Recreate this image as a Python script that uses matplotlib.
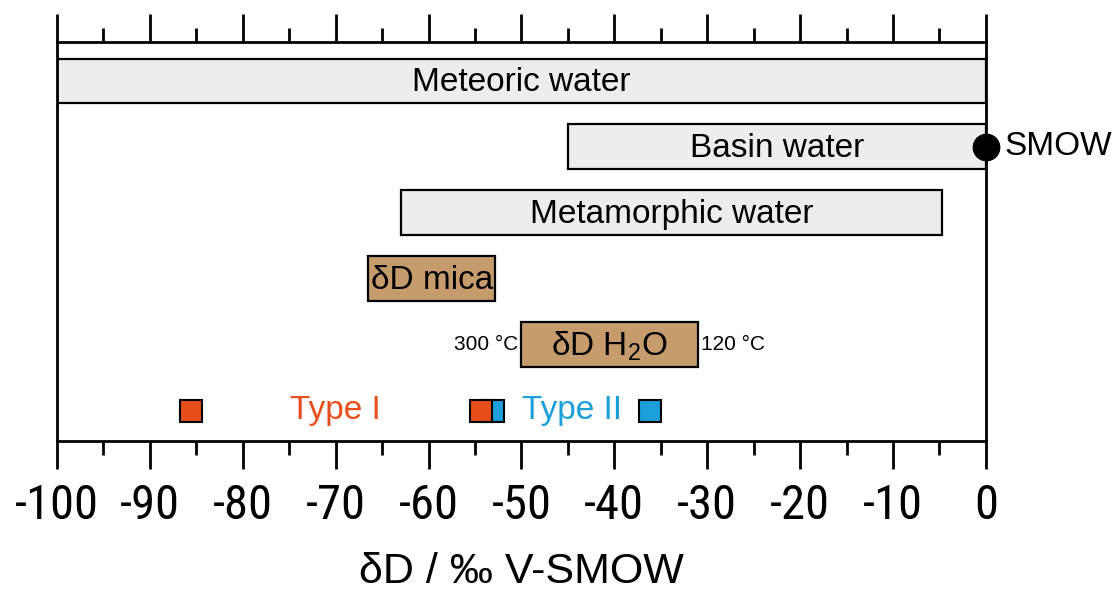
import matplotlib.pyplot as plt
from matplotlib.ticker import MultipleLocator

plt.rcParams['font.family'] = ['Liberation Sans', 'DejaVu Sans']
plt.rcParams['mathtext.fontset'] = 'custom'
plt.rcParams['mathtext.rm'] = 'Liberation Sans'
plt.rcParams['mathtext.default'] = 'regular'
plt.rcParams['axes.unicode_minus'] = False

NARROW = ['Roboto Condensed', 'Liberation Sans', 'DejaVu Sans']

# reservoirs: name, delta-D range (per mil)
box_labels = ['Meteoric water', 'Basin water', 'Metamorphic water', 'δD mica', 'δD H$_2$O']
box_lo = [-100, -45, -63, -66.5, -50]
box_hi = [0, 0, -4.7, -52.8, -31]
box_colors = ['#ededed', '#ededed', '#ededed', '#c69c6d', '#c69c6d']

# samples
type1_x = [-85.6, -54.4]
type2_x = [-53.1, -36.2]

smow_x = 0

fig = plt.figure(figsize=(11.14, 5.96), dpi=100)
ax = fig.add_axes([0.0512, 0.260, 0.8338, 0.6695])

for i, (lab, lo, hi, col) in enumerate(zip(box_labels, box_lo, box_hi, box_colors)):
    ax.barh(i, hi - lo, left=lo, height=0.68, color=col, edgecolor='black',
            linewidth=1.6, zorder=2)
    ax.text((lo + hi) / 2, i + 0.02, lab, ha='center', va='center', fontsize=24, zorder=3)

# temperature labels on H2O box
ax.text(box_lo[4] - 0.3, 4, '300 °C', ha='right', va='center', fontsize=15)
ax.text(box_hi[4] + 0.3, 4, '120 °C', ha='left', va='center', fontsize=15)

# SMOW point
ax.plot(smow_x, 1, 'o', color='black', markersize=19, zorder=5, clip_on=False)
ax.text(smow_x + 2, 1, 'SMOW', ha='left', va='center', fontsize=24)

# sample squares
ax.plot(type2_x, [5, 5], 's', color='#1a9fdb', markeredgecolor='black',
        markeredgewidth=1.5, markersize=16.5, linestyle='none', zorder=4)
ax.plot(type1_x, [5, 5], 's', color='#e84e1b', markeredgecolor='black',
        markeredgewidth=1.5, markersize=16.5, linestyle='none', zorder=5)
ax.text(-70, 5, 'Type I', color='#e84e1b', ha='center', va='center', fontsize=24)
ax.text(-44.6, 5, 'Type II', color='#1a9fdb', ha='center', va='center', fontsize=24)

ax.set_xlim(-100, 0)
ax.set_ylim(5.46, -0.59)
ax.set_yticks([])

ax.xaxis.set_major_locator(MultipleLocator(10))
ax.xaxis.set_minor_locator(MultipleLocator(5))
ax.tick_params(axis='x', which='both', top=True, bottom=True, direction='out',
               width=2, labeltop=False)
ax.tick_params(axis='x', which='major', length=20, labelsize=35, pad=10)
ax.tick_params(axis='x', which='minor', length=10)
for lbl in ax.get_xticklabels():
    lbl.set_family(NARROW)
for sp in ax.spines.values():
    sp.set_linewidth(2)

ax.set_xlabel('δD / ‰ V-SMOW', fontsize=31, labelpad=17)

fig.savefig('out.png', dpi=100)
